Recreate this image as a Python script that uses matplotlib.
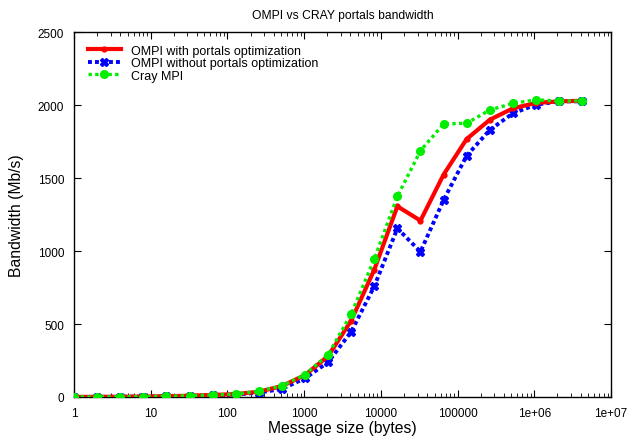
import numpy as np
import matplotlib.pyplot as plt

plt.rcParams['font.family'] = ['Liberation Sans', 'DejaVu Sans']

# message sizes: powers of two, 1 B .. 4 MB
sizes = [2 ** k for k in range(23)]

ompi_opt = [0.5, 1, 2, 3, 5, 9, 14, 20, 36, 75, 150, 280, 523, 872,
            1306, 1208, 1523, 1767, 1899, 1977, 2014, 2025, 2029]
ompi_noopt = [0.4, 0.8, 1.5, 2.5, 4, 7, 11, 17, 30, 55, 128, 238, 447, 758,
              1155, 995, 1349, 1653, 1829, 1943, 2002, 2025, 2025]
cray = [0.5, 1, 2, 3, 5, 9, 14, 20, 39, 77, 153, 290, 568, 945,
        1374, 1687, 1870, 1875, 1966, 2011, 2036, 2027, 2029]

labels = ['OMPI with portals optimization',
          'OMPI without portals optimization',
          'Cray MPI']
xtick_vals = [1, 10, 100, 1000, 10000, 100000, 1e6, 1e7]
xtick_labels = ['1', '10', '100', '1000', '10000', '100000', '1e+06', '1e+07']

fig = plt.figure(figsize=(6.3, 4.39), dpi=100)
ax = fig.add_axes([0.1175, 0.0934, 0.8525, 0.8314])

ax.plot(sizes, ompi_opt, color='#ff0000', lw=3.0, ls='-',
        marker='o', ms=3.5, label=labels[0], zorder=3)
ax.plot(sizes, ompi_noopt, color='#0000ff', lw=2.8, ls=(0, (1, 0.8)),
        marker='X', ms=6, label=labels[1], zorder=2)
ax.plot(sizes, cray, color='#00ee00', lw=2.4, ls=(0, (1, 1)),
        marker='o', ms=5.5, label=labels[2], zorder=4)

ax.set_xscale('log')
ax.set_xlim(1, 1e7)
ax.set_ylim(0, 2500)
ax.set_xticks(xtick_vals)
ax.set_xticklabels(xtick_labels)
ax.set_yticks(np.arange(0, 2501, 500))

ax.tick_params(which='both', direction='in', top=True, right=True,
               labelsize=8.5, pad=7)
ax.tick_params(which='major', length=5)
ax.tick_params(which='minor', length=3)
for s in ax.spines.values():
    s.set_linewidth(1.0)

ax.set_title('OMPI vs CRAY portals bandwidth', fontsize=8.7, pad=10)
ax.set_xlabel('Message size (bytes)', fontsize=11.3, labelpad=1)
ax.set_ylabel('Bandwidth (Mb/s)', fontsize=11.3, labelpad=10)

ax.legend(loc='upper left', frameon=False, fontsize=9, handlelength=2.6,
          labelspacing=0.05, borderaxespad=0.6, handletextpad=0.8,
          bbox_to_anchor=(0.003, 1.0))

fig.savefig('out.png', dpi=100)
